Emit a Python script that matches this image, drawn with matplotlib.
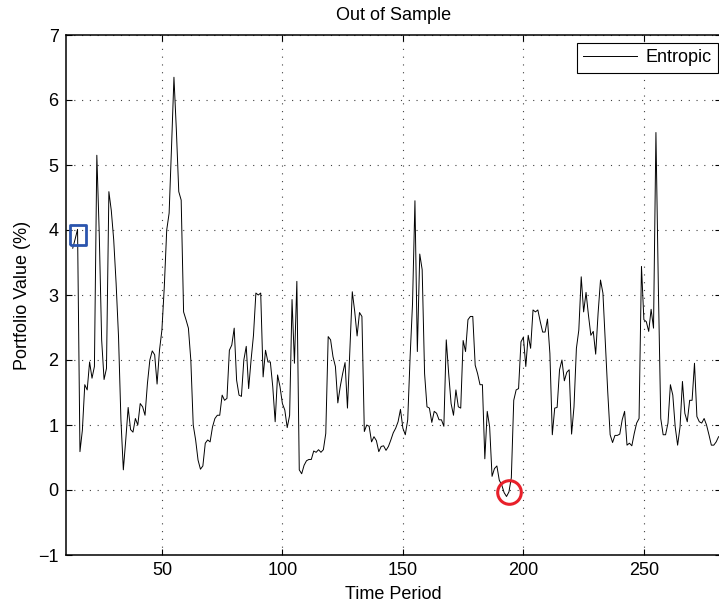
import matplotlib
matplotlib.use('Agg')
import matplotlib.pyplot as plt
import numpy as np

plt.rcParams['font.family'] = ['Liberation Sans', 'DejaVu Sans']

# Portfolio value (%) per time period (periods 13..281)
periods = np.arange(13, 282)
entropic = [
    3.72, 3.86, 4.01, 0.59, 0.92, 1.62, 1.54, 1.97, 1.72, 1.90,   # 13-22
    5.15, 3.95, 2.31, 1.70, 1.87, 4.59, 4.30, 3.85, 3.18, 2.36,   # 23-32
    1.08, 0.31, 0.77, 1.27, 0.93, 0.89, 1.10, 1.00, 1.33, 1.28,   # 33-42
    1.15, 1.64, 2.00, 2.14, 2.08, 1.63, 2.15, 2.46, 3.13, 4.00,   # 43-52
    4.26, 5.28, 6.35, 5.54, 4.59, 4.46, 2.74, 2.62, 2.49, 2.00,   # 53-62
    1.00, 0.77, 0.46, 0.32, 0.37, 0.72, 0.77, 0.74, 0.97, 1.10,   # 63-72
    1.15, 1.15, 1.46, 1.38, 1.41, 2.15, 2.23, 2.49, 1.69, 1.46,   # 73-82
    1.44, 2.00, 2.21, 1.56, 2.00, 2.38, 3.03, 3.00, 3.03, 1.74,   # 83-92
    2.15, 1.97, 1.97, 1.59, 1.05, 1.77, 1.59, 1.33, 1.23, 0.96,   # 93-102
    1.15, 2.93, 1.95, 3.21, 0.31, 0.25, 0.38, 0.45, 0.47, 0.47,   # 103-112
    0.60, 0.58, 0.62, 0.58, 0.62, 0.87, 2.36, 2.31, 2.05, 1.90,   # 113-122
    1.34, 1.59, 1.79, 1.96, 1.26, 2.15, 3.05, 2.75, 2.37, 2.73,   # 123-132
    2.67, 0.90, 1.00, 0.98, 0.74, 0.82, 0.76, 0.59, 0.67, 0.68,   # 133-142
    0.61, 0.67, 0.77, 0.88, 0.95, 1.05, 1.24, 0.95, 0.85, 1.08,   # 143-152
    2.05, 2.87, 4.45, 2.13, 3.63, 3.39, 1.79, 1.28, 1.26, 1.04,   # 153-162
    1.21, 1.18, 1.08, 1.08, 0.98, 2.31, 1.79, 1.33, 1.15, 1.54,   # 163-172
    1.28, 1.26, 2.30, 2.13, 2.62, 2.67, 2.67, 1.92, 1.79, 1.62,   # 173-182
    1.62, 0.48, 1.21, 0.97, 0.21, 0.33, 0.37, 0.15, 0.08, -0.04,  # 183-192
    -0.10, -0.03, 0.19, 1.38, 1.54, 1.56, 2.28, 2.35, 1.90, 2.38, # 193-202
    2.18, 2.77, 2.74, 2.77, 2.59, 2.43, 2.43, 2.63, 2.10, 0.85,   # 203-212
    1.26, 1.27, 1.85, 2.00, 1.68, 1.81, 1.85, 0.86, 1.28, 2.18,   # 213-222
    2.46, 3.28, 2.74, 3.04, 2.69, 2.38, 2.44, 2.09, 2.72, 3.23,   # 223-232
    3.03, 2.26, 1.51, 0.85, 0.73, 0.84, 0.84, 0.86, 1.08, 1.21,   # 233-242
    0.69, 0.72, 0.68, 0.87, 1.03, 1.10, 3.44, 2.62, 2.59, 2.44,   # 243-252
    2.78, 2.49, 5.50, 3.13, 1.10, 0.85, 0.85, 1.03, 1.62, 1.46,   # 253-262
    0.97, 0.69, 0.97, 1.67, 1.18, 1.05, 1.38, 1.38, 1.95, 1.13,   # 263-272
    1.05, 1.03, 1.10, 1.00, 0.85, 0.69, 0.69, 0.74, 0.82,         # 273-281
]
entropic = np.array(entropic)

# highlighted periods: early peak (blue square) and the trough (red circle)
square_period = 15
circle_period = 194
sq_idx = int(np.where(periods == square_period)[0][0])
ci_idx = int(np.where(periods == circle_period)[0][0])

x_ticks = [50, 100, 150, 200, 250]
y_ticks = list(range(-1, 8))

fig = plt.figure(figsize=(7.19, 6.06), dpi=100)
fig.patch.set_facecolor('white')
ax = fig.add_axes([65.5 / 719, 51 / 606, 655.5 / 719, 520 / 606])

ax.plot(periods, entropic, color='black', linewidth=0.7, label='Entropic')

# slightly tall rectangle marker, like the reference box
rect_marker = [(-0.78, -1), (0.78, -1), (0.78, 1), (-0.78, 1), (-0.78, -1)]
ax.plot(periods[sq_idx], entropic[sq_idx] - 0.08, marker=rect_marker, markersize=15,
        markerfacecolor='none', markeredgecolor='#2B55AE', markeredgewidth=2.0)
ax.plot(periods[ci_idx], entropic[ci_idx], marker='o', markersize=17,
        markerfacecolor='none', markeredgecolor='#E8202A', markeredgewidth=2.2)

ax.set_xlim(10, 282)
ax.set_ylim(-1, 7)
ax.set_xticks(x_ticks)
ax.set_yticks(y_ticks)

# MATLAB-like dotted grid and inward ticks
ax.grid(True, color='0.25', linestyle=(0, (1, 6)), linewidth=0.8)
ax.tick_params(direction='in', top=True, right=True, length=4, width=0.8,
               labelsize=13, pad=5, colors='black')
for s in ax.spines.values():
    s.set_linewidth(1.1)
    s.set_color('black')

ax.set_title('Out of Sample', fontsize=13, pad=11)
ax.set_xlabel('Time Period', fontsize=13, labelpad=5)
ax.set_ylabel('Portfolio Value (%)', fontsize=13, labelpad=5)

legend = ax.legend(loc='upper right', bbox_to_anchor=(0.9954, 0.9846), borderaxespad=0,
                   fontsize=13, handlelength=3.0, handletextpad=0.45, fancybox=False,
                   framealpha=1, edgecolor='black', borderpad=0.35)
legend.get_frame().set_linewidth(0.8)

plt.savefig('out.png', dpi=100, facecolor=fig.get_facecolor())
